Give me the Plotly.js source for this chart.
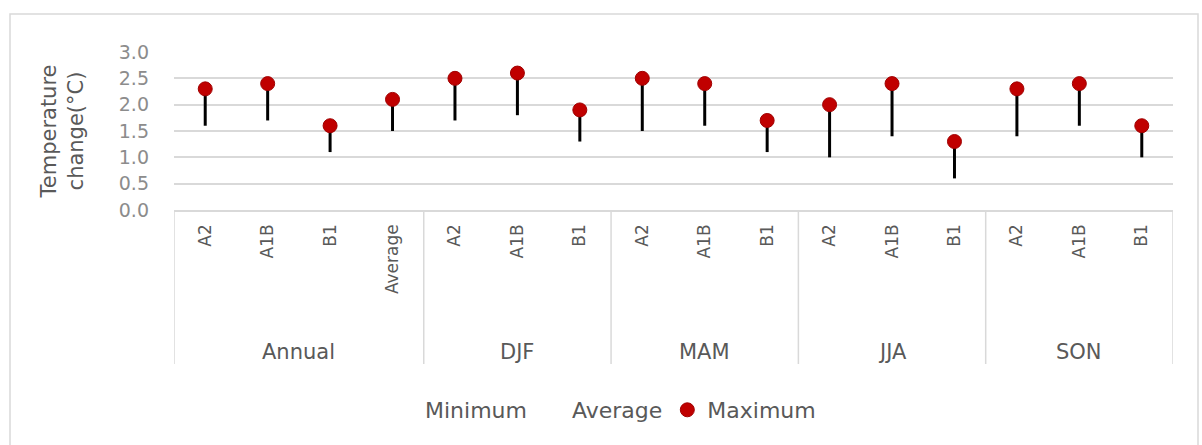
<!DOCTYPE html>
<html>
<head>
<meta charset="utf-8">
<script src="https://cdn.plot.ly/plotly-3.0.1.min.js"></script>
<style>
  html, body { margin: 0; padding: 0; background: #ffffff; }
  #chart { width: 1202px; height: 445px; }
</style>
</head>
<body>
<div id="chart"></div>
<script>
// ---- data ----
const groupLabels = ['Annual','Annual','Annual','Annual','DJF','DJF','DJF','MAM','MAM','MAM','JJA','JJA','JJA','SON','SON','SON'];
const subLabels   = ['A2','A1B','B1','Average','A2','A1B','B1','A2','A1B','B1','A2','A1B','B1','A2','A1B','B1'];
const maximum     = [2.3, 2.4, 1.6, 2.1, 2.5, 2.6, 1.9, 2.5, 2.4, 1.7, 2.0, 2.4, 1.3, 2.3, 2.4, 1.6];
const minimum     = [1.6, 1.7, 1.1, 1.5, 1.7, 1.8, 1.3, 1.5, 1.6, 1.1, 1.0, 1.4, 0.6, 1.4, 1.6, 1.0];
const yTickVals   = [0, 0.5, 1, 1.5, 2, 2.5, 3];
const yTickText   = ['0.0','0.5','1.0','1.5','2.0','2.5','3.0'];

// ---- derived ----
const idx = subLabels.map((_, i) => i);
const span = maximum.map((m, i) => m - minimum[i]);

const FONT = '"DejaVu Sans", sans-serif';
const TXT = '#595959';

// group centres and boundaries
const groups = [];
groupLabels.forEach((g, i) => {
  const last = groups[groups.length - 1];
  if (!last || last.name !== g) groups.push({name: g, start: i, end: i});
  else last.end = i;
});

const PLOT_TOP = 52, PLOT_BOTTOM = 210, PH = PLOT_BOTTOM - PLOT_TOP;
const PLOT_LEFT = 174, PW = 999;
const py = p => (PLOT_BOTTOM - p) / PH;   // pixel row -> paper y
const px = p => (p - PLOT_LEFT) / PW;      // pixel column -> paper x

const shapes = [];
const boundaries = [groups[0].start - 0.5].concat(groups.map(g => g.end + 0.5));
boundaries.forEach(b => shapes.push({
  type: 'line', xref: 'x', yref: 'paper', x0: b, x1: b, y0: 0, y1: py(364),
  line: {color: '#d9d9d9', width: 1.5}
}));
// outer chart border
shapes.push({type: 'rect', xref: 'paper', yref: 'paper',
  x0: px(10), x1: px(1198), y0: py(470), y1: py(14),
  line: {color: '#d9d9d9', width: 1.5}});

const annotations = groups.map(g => ({
  xref: 'x', yref: 'paper', x: (g.start + g.end) / 2, y: py(352),
  text: g.name, showarrow: false, yanchor: 'middle',
  font: {family: FONT, size: 21, color: TXT}
}));

const traces = [
  {name: 'Minimum', type: 'scatter', mode: 'markers', x: idx, y: minimum,
   marker: {size: 1, opacity: 0, color: '#ffffff'}, hoverinfo: 'y'},
  {name: 'Average', type: 'scatter', mode: 'markers', x: [null], y: [null],
   marker: {size: 1, opacity: 0, color: '#ffffff'}},
  {name: 'Maximum', type: 'scatter', mode: 'markers', x: idx, y: maximum,
   marker: {size: 14, color: '#c00000', line: {color: '#a00000', width: 1}},
   error_y: {type: 'data', symmetric: false, array: idx.map(() => 0), arrayminus: span,
             color: '#000000', thickness: 3, width: 0}}
];

const layout = {
  width: 1202, height: 445,
  margin: {l: PLOT_LEFT, r: 1202 - PLOT_LEFT - PW, t: PLOT_TOP, b: 445 - PLOT_BOTTOM},
  paper_bgcolor: '#ffffff', plot_bgcolor: '#ffffff',
  font: {family: FONT, color: TXT},
  showlegend: true,
  legend: {orientation: 'h', x: px(385), xanchor: 'left', y: py(410), yanchor: 'middle',
           font: {family: FONT, size: 22, color: TXT}, traceorder: 'normal'},
  xaxis: {
    range: [-0.5, subLabels.length - 0.5], tickmode: 'array', tickvals: idx, ticktext: subLabels,
    tickangle: -90, showgrid: false, zeroline: false, showline: true, linecolor: '#d9d9d9', linewidth: 1.5,
    ticks: '', tickfont: {family: FONT, size: 17, color: TXT}, ticklabelstandoff: 6, fixedrange: true
  },
  yaxis: {
    range: [0, 3], tickmode: 'array', tickvals: yTickVals, ticktext: yTickText,
    showgrid: true, gridcolor: '#d9d9d9', gridwidth: 2, zeroline: false, showline: false,
    ticks: '', tickfont: {family: FONT, size: 19, color: '#8c8c8c'}, ticklabelstandoff: 24,
    title: {text: 'Temperature<br>change(°C)', font: {family: FONT, size: 21, color: TXT}, standoff: 29},
    fixedrange: true
  },
  shapes: shapes,
  annotations: annotations
};

Plotly.newPlot('chart', traces, layout, {displayModeBar: false, staticPlot: true});
</script>
</body>
</html>
